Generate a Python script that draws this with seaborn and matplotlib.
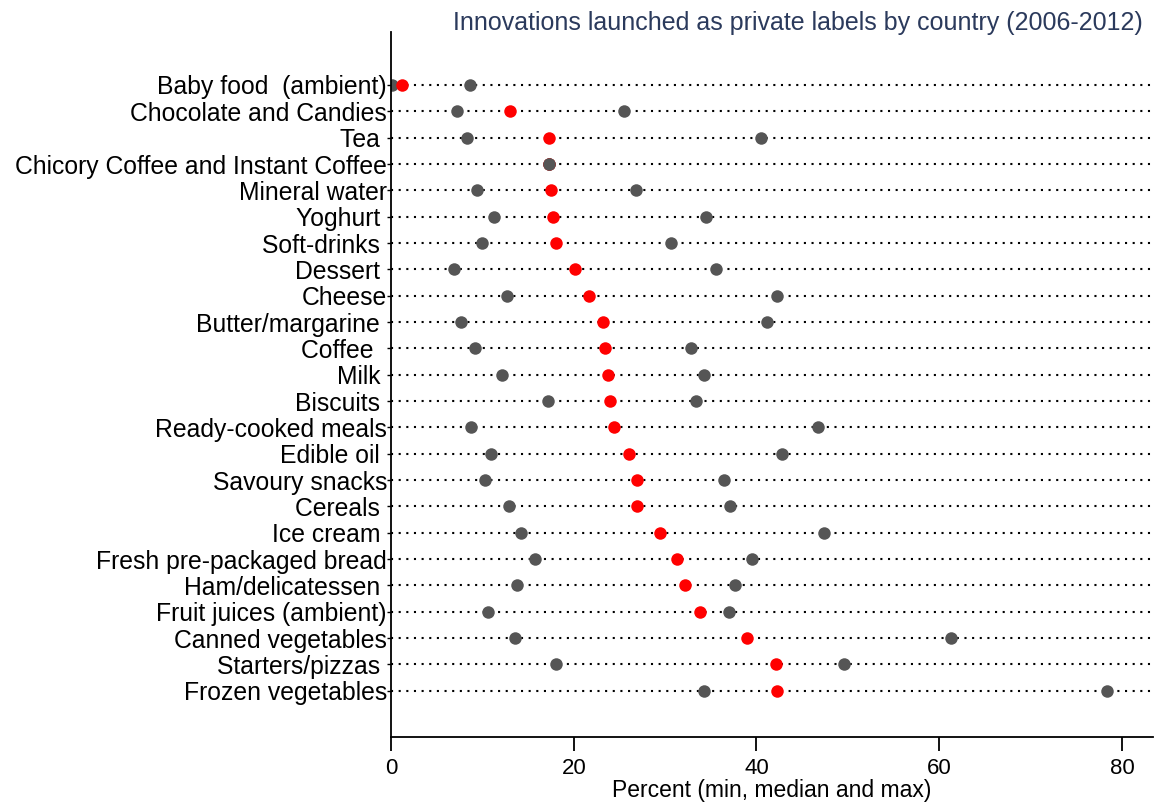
import pandas as pd
import seaborn as sns
import matplotlib.pyplot as plt
import numpy as np

categories = ["Baby food  (ambient)", "Chocolate and Candies", "Tea ", "Chicory Coffee and Instant Coffee",
              "Mineral water", "Yoghurt ", "Soft-drinks ", "Dessert ", "Cheese", "Butter/margarine ",
              "Coffee  ", "Milk ", "Biscuits ", "Ready-cooked meals", "Edible oil ", "Savoury snacks",
              "Cereals ", "Ice cream ", "Fresh pre-packaged bread", "Ham/delicatessen ",
              "Fruit juices (ambient)", "Canned vegetables", "Starters/pizzas ", "Frozen vegetables"]
min_vals = [0.1, 7.2, 8.3, 17.3, 9.4, 11.3, 10.0, 6.9, 12.7, 7.7, 9.2, 12.1, 17.2, 8.8, 10.9, 10.3,
            12.9, 14.2, 15.8, 13.8, 10.6, 13.6, 18.1, 34.3]
median_vals = [1.2, 13.0, 17.3, 17.3, 17.5, 17.7, 18.1, 20.1, 21.7, 23.2, 23.4, 23.7, 24.0, 24.4, 26.1, 26.9,
               26.9, 29.4, 31.3, 32.2, 33.8, 39.0, 42.1, 42.2]
max_vals = [8.6, 25.5, 40.5, 17.3, 26.8, 34.5, 30.6, 35.6, 42.3, 41.1, 32.8, 34.3, 33.4, 46.7, 42.8, 36.4,
            37.1, 47.4, 39.5, 37.7, 37.0, 61.3, 49.6, 78.4]

df = pd.DataFrame({"cat": categories, "min": min_vals, "median": median_vals, "max": max_vals})

sns.set_style("white")
plt.rcParams['font.family'] = ['Liberation Sans', 'DejaVu Sans']
plt.rcParams['text.color'] = 'black'
plt.rcParams['xtick.color'] = 'black'
plt.rcParams['ytick.color'] = 'black'
plt.rcParams['axes.labelcolor'] = 'black'

fig = plt.figure(figsize=(11.57, 8.08), dpi=100)
ax = fig.add_axes([0.338, 0.088, 0.6585, 0.872])

XMAX = 83.4
ax.hlines(y=np.arange(len(categories)), xmin=0, xmax=XMAX, colors="black",
          linewidth=1.5, linestyles=(0, (1, 2.67)), zorder=1)

sns.stripplot(data=df, x="min", y="cat", order=categories, jitter=False, color="#555555",
              size=9, linewidth=0, ax=ax, zorder=2)
sns.stripplot(data=df, x="median", y="cat", order=categories, jitter=False, color="#ff0000",
              size=9, linewidth=0, ax=ax, zorder=3)
sns.stripplot(data=df, x="max", y="cat", order=categories, jitter=False, color="#555555",
              size=9, linewidth=0, ax=ax, zorder=4)

ax.set_xlim(0, XMAX)
ax.set_ylim(len(categories) + 0.75, -2.0)
ax.set_xticks([0, 20, 40, 60, 80])
ax.set_xlabel("Percent (min, median and max)", fontsize=16.5, labelpad=0)
ax.set_ylabel("")
ax.tick_params(axis="x", direction="out", length=10, width=1.3, labelsize=16, pad=5, bottom=True)
ax.tick_params(axis="y", direction="out", length=3, width=1, labelsize=17.8, pad=0, left=True)
for s in ["top", "right"]:
    ax.spines[s].set_visible(False)
for s in ["left", "bottom"]:
    ax.spines[s].set_color("black")
    ax.spines[s].set_linewidth(1.3)
ax.grid(False)

fig.text(0.988, 0.972, "Innovations launched as private labels by country (2006-2012)",
         ha="right", va="center", fontsize=18, color="#2b3a5c")

fig.savefig("out.png", dpi=100)
